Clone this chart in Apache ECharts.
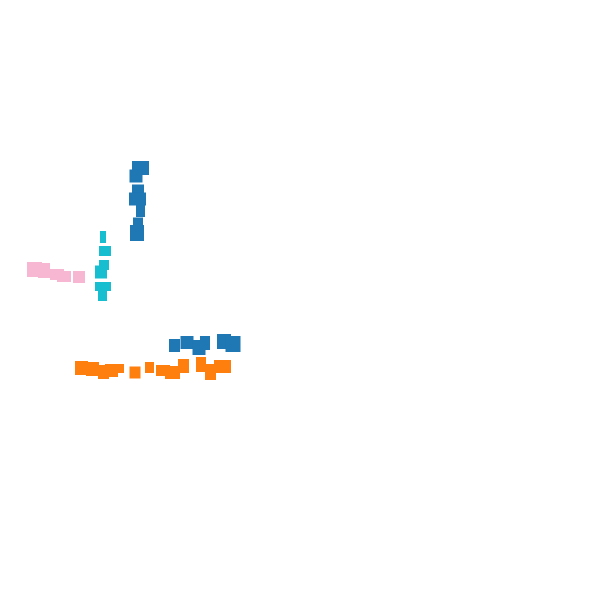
<!DOCTYPE html>
<html>
<head>
<meta charset="utf-8">
<script src="https://cdn.jsdelivr.net/npm/echarts@6/dist/echarts.min.js"></script>
<style>html,body{margin:0;padding:0;background:#fff}#c{width:600px;height:600px}</style>
</head>
<body>
<div id="c"></div>
<script>
// Series A (blue) — vertical group and horizontal group
const blueX = [140.5, 136, 138, 137.5, 140.5, 140.5, 138, 137, 174.5, 187, 199, 205, 224, 233];
const blueY = [168, 176, 189, 199, 206, 213, 221.5, 233, 345.5, 342.5, 347.5, 343, 341.5, 344];
const blueW = [17, 13, 12, 17, 9, 9, 10, 14, 11, 13, 13, 10, 14, 15];
const blueH = [14, 13, 9, 13, 8, 8, 8, 16, 13, 13, 15, 14, 15, 16];

// Series B (orange)
const orangeX = [81.5, 92.5, 103.5, 111.5, 119.5, 135, 149.5, 163, 172.5, 183.5, 201, 210.5, 222.5];
const orangeY = [368, 369, 372, 370.5, 368.5, 372.5, 367.5, 370.5, 372.5, 366, 364.5, 372, 366.5];
const orangeW = [13, 13, 11, 13, 9, 11, 9, 14, 15, 11, 10, 11, 17];
const orangeH = [14, 14, 14, 13, 9, 12, 11, 11, 13, 14, 15, 16, 13];

// Series C (cyan)
const cyanX = [103, 103, 105, 104, 101, 103, 102.5];
const cyanY = [234, 240, 251, 265, 272, 286.5, 296];
const cyanW = [6, 6, 12, 10, 12, 16, 9];
const cyanH = [6, 6, 10, 10, 13, 9, 10];

// Series D (pink)
const pinkX = [34.5, 44, 57, 64, 79];
const pinkY = [269.5, 270.5, 274.5, 276.5, 277];
const pinkW = [15, 12, 14, 14, 12];
const pinkH = [15, 15, 11, 11, 12];

function pts(xs, ys, ws, hs) {
  return xs.map((x, i) => [x, ys[i], ws[i], hs[i]]);
}
function ser(name, color, xs, ys, ws, hs) {
  return {
    name: name,
    type: 'scatter',
    symbol: 'rect',
    symbolSize: function (v) { return [v[2], v[3]]; },
    itemStyle: { color: color, opacity: 1 },
    emphasis: { disabled: true },
    data: pts(xs, ys, ws, hs)
  };
}
const chart = echarts.init(document.getElementById('c'), null, { renderer: 'canvas' });
chart.setOption({
  animation: false,
  backgroundColor: '#ffffff',
  grid: { left: 0, right: 0, top: 0, bottom: 0 },
  xAxis: { type: 'value', min: 0, max: 600, show: false },
  yAxis: { type: 'value', min: 0, max: 600, inverse: true, show: false },
  series: [
    ser('A', '#1f77b4', blueX, blueY, blueW, blueH),
    ser('B', '#ff7f0e', orangeX, orangeY, orangeW, orangeH),
    ser('C', '#17becf', cyanX, cyanY, cyanW, cyanH),
    ser('D', '#f7b6d2', pinkX, pinkY, pinkW, pinkH)
  ]
});
</script>
</body>
</html>
